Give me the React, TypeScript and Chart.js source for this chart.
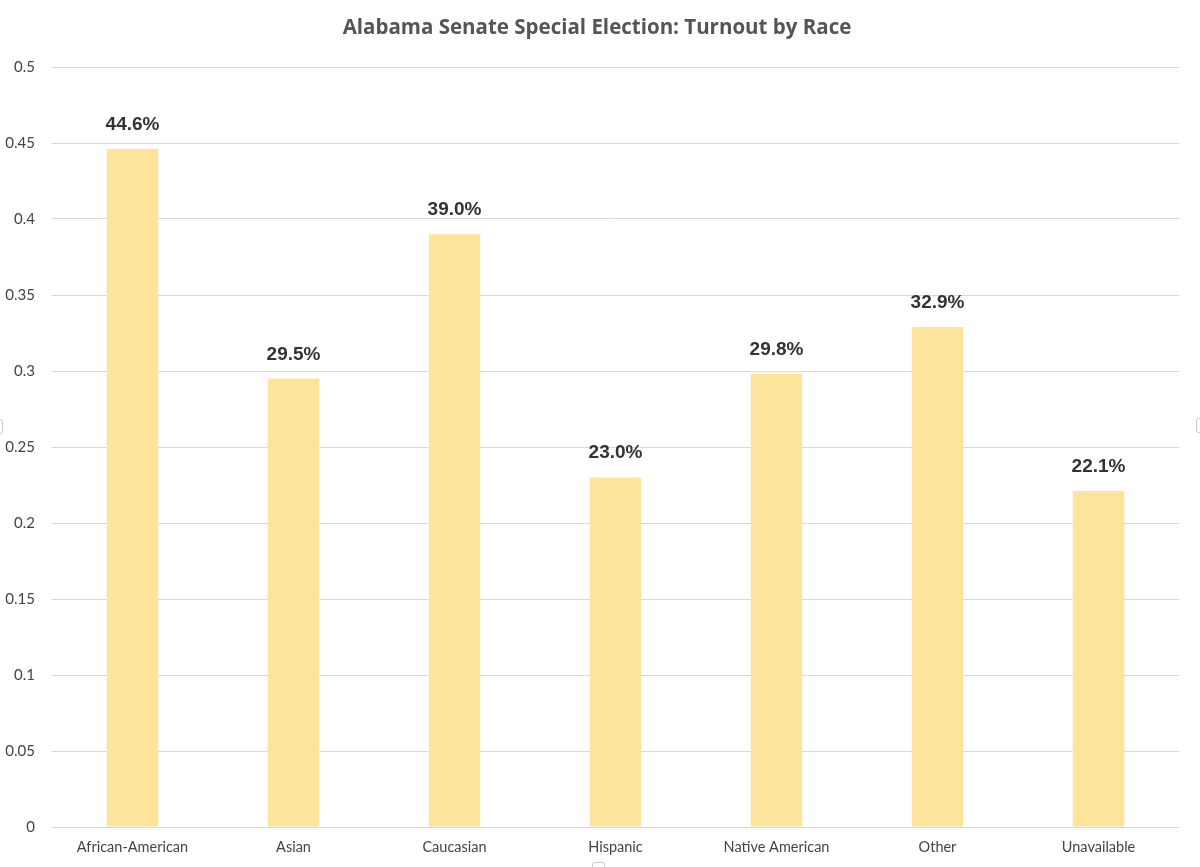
import React, { useEffect, useRef } from "react";
import { Chart, registerables } from "chart.js";

Chart.register(...registerables);

const categories = ["African-American", "Asian", "Caucasian", "Hispanic", "Native American", "Other", "Unavailable"];
const turnout = [0.446, 0.295, 0.39, 0.23, 0.298, 0.329, 0.221];
const titleText = "Alabama Senate Special Election: Turnout by Race";

const valueLabels = {
  id: "valueLabels",
  afterDatasetsDraw(chart: any) {
    const { ctx } = chart;
    const meta = chart.getDatasetMeta(0);
    ctx.save();
    ctx.font = "bold 19px 'Liberation Sans', Arial, sans-serif";
    ctx.fillStyle = "#333333";
    ctx.textAlign = "center";
    ctx.textBaseline = "alphabetic";
    meta.data.forEach((bar: any, i: number) => {
      const v = chart.data.datasets[0].data[i] as number;
      ctx.fillText((v * 100).toFixed(1) + "%", bar.x, bar.y - 19);
    });
    ctx.restore();
  },
};

const chartTitle = {
  id: "chartTitle",
  afterDraw(chart: any) {
    const { ctx } = chart;
    ctx.save();
    ctx.font = "bold 20.5px 'Open Sans', Lato, sans-serif";
    ctx.fillStyle = "#555555";
    ctx.textAlign = "center";
    ctx.textBaseline = "middle";
    ctx.fillText(titleText, 597, 28);
    // faint selection handles of the chart frame
    ctx.strokeStyle = "#C8C8C8";
    ctx.lineWidth = 1;
    const handle = (x: number, y: number, w: number, h: number) => {
      ctx.beginPath();
      if ((ctx as any).roundRect) (ctx as any).roundRect(x, y, w, h, 2);
      else ctx.rect(x, y, w, h);
      ctx.stroke();
    };
    handle(592.5, 862.5, 12, 8);
    handle(-4.5, 419.5, 7, 14);
    handle(1196.5, 418.5, 8, 14);
    ctx.restore();
  },
};

export default function App() {
  const ref = useRef<HTMLCanvasElement>(null);
  useEffect(() => {
    if (!ref.current) return;
    const chart = new Chart(ref.current, {
      type: "bar",
      data: {
        labels: categories,
        datasets: [
          {
            data: turnout,
            backgroundColor: "#FCE49C",
            borderWidth: 0,
            categoryPercentage: 1,
            barPercentage: 0.32,
          },
        ],
      },
      options: {
        animation: false,
        responsive: true,
        maintainAspectRatio: false,
        layout: { padding: { left: 0, right: 21, top: 67, bottom: 11 } },
        plugins: {
          legend: { display: false },
          tooltip: { enabled: false },
          title: { display: false },
        },
        scales: {
          x: {
            afterFit(scale: any) {
              scale.height = 29;
            },
            grid: { display: false, drawTicks: false },
            border: { display: false },
            ticks: {
              color: "#444444",
              font: { family: "Lato, 'Open Sans', sans-serif", size: 14.5 },
              padding: 12,
              maxRotation: 0,
            },
          },
          y: {
            min: 0,
            max: 0.5,
            afterFit(scale: any) {
              scale.width = 52;
            },
            grid: { color: "#D9D9D9", lineWidth: 1, drawTicks: false },
            border: { display: false },
            ticks: {
              stepSize: 0.05,
              color: "#444444",
              font: { family: "Lato, 'Open Sans', sans-serif", size: 15 },
              padding: 17,
              callback: (v: any) => String(+Number(v).toFixed(2)),
            },
          },
        },
      },
      plugins: [valueLabels, chartTitle],
    });
    return () => chart.destroy();
  }, []);
  return (
    <div style={{ position: "absolute", left: 0, top: 0, width: 1200, height: 867, background: "#fff" }}>
      <canvas ref={ref} />
    </div>
  );
}
